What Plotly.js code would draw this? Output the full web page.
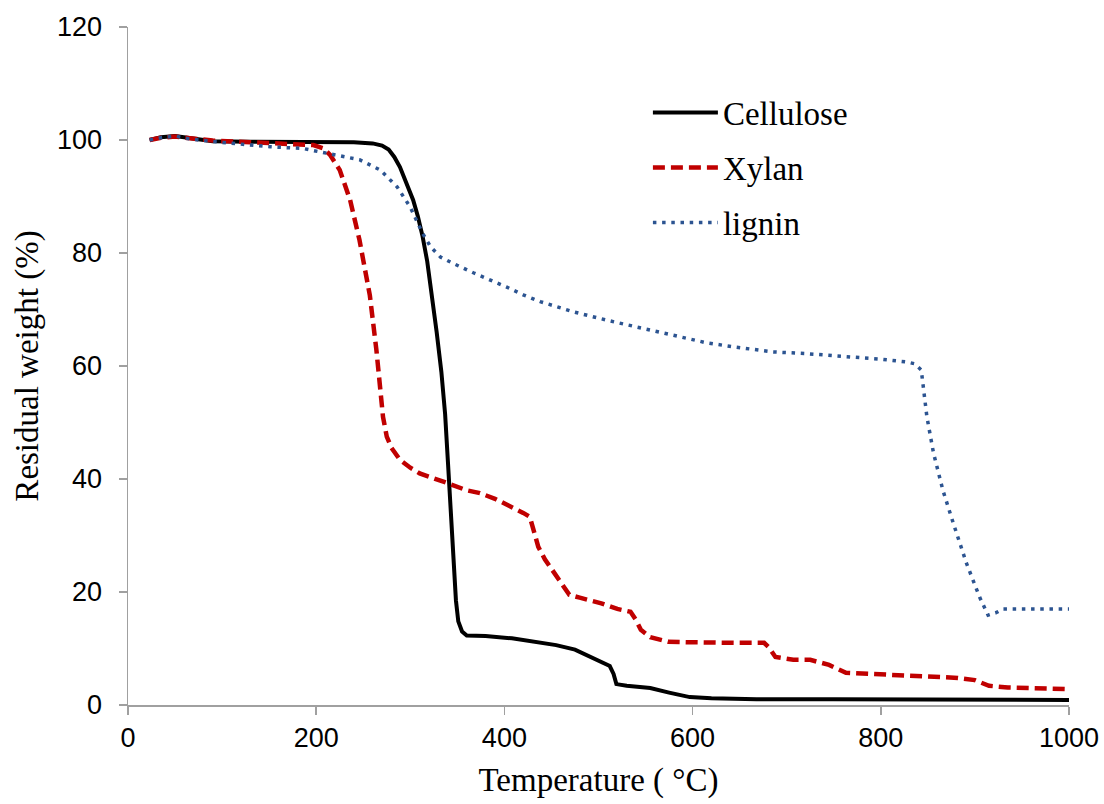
<!DOCTYPE html>
<html>
<head>
<meta charset="utf-8">
<script src="https://cdn.plot.ly/plotly-3.0.1.min.js"></script>
<style>
  html, body { margin: 0; padding: 0; background: #fff; }
  #chart { width: 1104px; height: 804px; }
</style>
</head>
<body>
<div id="chart"></div>
<script>
// Thermogravimetric curves: residual weight (%) vs temperature (°C)
const celluloseT = [23, 35, 50, 65, 90, 130, 200, 240, 260, 270, 277, 283, 289, 296, 303, 308, 313, 318, 323, 328, 333, 337, 340, 343, 346, 348.5, 351, 355, 360, 380, 408, 430, 455, 475, 488, 500, 512, 516, 519, 530, 555, 575, 597, 620, 668, 750, 850, 1000];
const celluloseW = [100, 100.5, 100.7, 100.3, 99.8, 99.7, 99.7, 99.6, 99.4, 99.0, 98.3, 97.0, 95.2, 92.5, 89.4, 86.5, 83, 78.5, 72.5, 66, 59, 51.5, 43, 34, 25, 18.5, 14.8, 13, 12.3, 12.2, 11.8, 11.2, 10.6, 9.8, 8.8, 8, 6.9, 5.5, 3.7, 3.4, 3.0, 2.2, 1.4, 1.2, 1.0, 1.0, 1.0, 0.9];

const xylanT = [23, 35, 50, 65, 90, 130, 170, 197, 208, 215, 225, 236, 246, 257, 264, 268, 271, 275, 280, 289, 300, 310, 325, 339, 360, 374, 390, 409, 420, 427, 431, 436, 443, 451, 460, 469, 480, 503, 520, 534, 540, 545, 555, 574, 600, 621, 650, 676, 681, 688, 707, 725, 745, 763, 790, 811, 850, 882, 900, 915, 935, 953, 1000];
const xylanW = [100, 100.4, 100.6, 100.3, 99.9, 99.6, 99.4, 99.1, 98.5, 97.3, 94.7, 89.4, 82.3, 72.5, 62.8, 57, 51, 47.5, 45.5, 43.4, 42, 41, 40.2, 39.3, 38, 37.5, 36.5, 35, 34, 33.3, 31, 28, 25.8, 23.9, 21.5, 19.5, 19, 18, 17, 16.5, 15, 13.3, 12, 11.2, 11.1, 11, 11, 11, 10.2, 8.5, 8, 8, 7.1, 5.7, 5.5, 5.3, 5.1, 4.8, 4.4, 3.4, 3.1, 3, 2.8];

const ligninT = [23, 35, 50, 65, 98, 151, 186, 222, 246, 268, 286, 300, 313, 322, 332, 345, 367, 402, 420, 438, 473, 509, 544, 579, 615, 643, 685, 720, 757, 800, 828, 836, 843, 845, 849, 856, 866, 877, 891, 905, 914, 922, 930, 1000];
const ligninW = [100, 100.4, 100.7, 100.2, 99.6, 98.8, 98.5, 97.3, 96.5, 94.7, 91.7, 88.1, 83.5, 81.0, 79.3, 78.2, 76.5, 74, 72.6, 71.4, 69.6, 68.1, 66.8, 65.5, 64.1, 63.4, 62.5, 62.2, 61.8, 61.2, 60.7, 60.4, 59.3, 56.1, 51, 44.6, 38, 32.2, 25.1, 19.1, 15.9, 16.3, 17, 17];

const seriesNames = ['Cellulose', 'Xylan', 'lignin'];
const xTicks = [0, 200, 400, 600, 800, 1000];
const yTicks = [0, 20, 40, 60, 80, 100, 120];

const serif = 'Liberation Serif, Times New Roman, serif';
const sans = 'Liberation Sans, Arial, sans-serif';
const axisGray = '#a0a0a0';

const traces = [
  {
    x: celluloseT, y: celluloseW, name: seriesNames[0], legendgroup: 'a',
    type: 'scatter', mode: 'lines',
    line: { color: '#000000', width: 4 }
  },
  {
    x: xylanT, y: xylanW, name: seriesNames[1], legendgroup: 'b',
    type: 'scatter', mode: 'lines',
    line: { color: '#c00000', width: 4.5, dash: '12px,6px' }
  },
  {
    x: ligninT, y: ligninW, name: seriesNames[2], legendgroup: 'c',
    type: 'scatter', mode: 'lines',
    line: { color: '#2c5491', width: 3.5, dash: '3.5px,5.7px' }
  }
];

const layout = {
  width: 1104, height: 804,
  margin: { l: 128, r: 35, t: 27, b: 99 },
  paper_bgcolor: '#ffffff', plot_bgcolor: '#ffffff',
  showlegend: true,
  legend: {
    x: 0.5525, y: 0.915, xanchor: 'left', yanchor: 'top',
    font: { family: serif, size: 33, color: '#000' },
    bgcolor: 'rgba(0,0,0,0)',
    traceorder: 'grouped', tracegroupgap: 9,
    itemwidth: 65
  },
  xaxis: {
    range: [0, 1000], tickvals: xTicks, ticktext: xTicks.map(String),
    showgrid: false, zeroline: false,
    showline: true, linecolor: axisGray, linewidth: 1.5,
    ticks: 'outside', ticklen: 8, tickwidth: 1.5, tickcolor: axisGray,
    ticklabelstandoff: 0,
    tickfont: { family: sans, size: 27, color: '#000' },
    title: { text: 'Temperature ( °C)', font: { family: serif, size: 33, color: '#000' }, standoff: 16 }
  },
  yaxis: {
    range: [0, 120], tickvals: yTicks, ticktext: yTicks.map(String),
    showgrid: false, zeroline: false,
    showline: true, linecolor: axisGray, linewidth: 1.5,
    ticks: 'outside', ticklen: 8, tickwidth: 1.5, tickcolor: axisGray,
    ticklabelstandoff: 11,
    tickfont: { family: sans, size: 27, color: '#000' },
    title: { text: 'Residual weight (%)', font: { family: serif, size: 33, color: '#000' }, standoff: 8 }
  }
};

Plotly.newPlot('chart', traces, layout, { displayModeBar: false, staticPlot: true });
</script>
</body>
</html>
